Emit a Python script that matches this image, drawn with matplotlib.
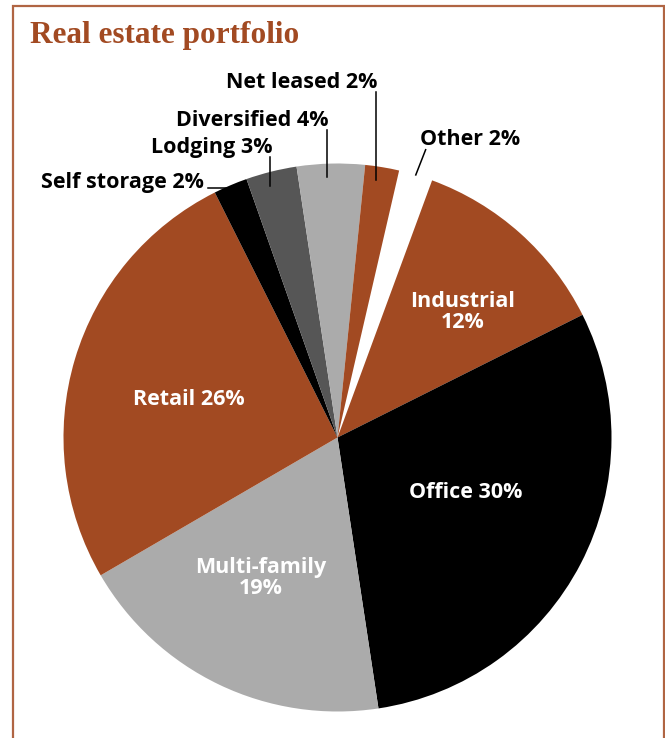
import numpy as np
import matplotlib.pyplot as plt
from matplotlib.patches import Rectangle

# portfolio shares, clockwise from the top
sectors = ["Other", "Industrial", "Office", "Multi-family", "Retail",
           "Self storage", "Lodging", "Diversified", "Net leased"]
shares = [2, 12, 30, 19, 26, 2, 3, 4, 2]

BROWN = "#A24A22"
colors = ["white", BROWN, "black", "#ABABAB", BROWN,
          "black", "#565656", "#ABABAB", BROWN]

W, H = 665, 738
fig = plt.figure(figsize=(W / 100, H / 100), dpi=100)

# frame round the panel (open at the bottom)
fig.add_artist(Rectangle((13 / W, -0.02), (664 - 13) / W, 1.02 - 6 / H,
                         transform=fig.transFigure, fill=False,
                         edgecolor=BROWN, lw=1.6, alpha=0.85))
fig.text(30 / W, 1 - 35 / H, "Real estate portfolio", color=BROWN,
         fontsize=22.5, fontweight="bold", family="Liberation Serif",
         ha="left", va="center")

cx, cy, r = 337.5, 437.5, 274
ax = fig.add_axes([(cx - r) / W, (H - cy - r) / H, 2 * r / W, 2 * r / H])
wedges, _ = ax.pie(shares, colors=colors, startangle=77, counterclock=False,
                   radius=1, wedgeprops=dict(linewidth=0))
ax.set_xlim(-1, 1)
ax.set_ylim(-1, 1)
ax.set_aspect("equal")
ax.axis("off")

sans = ["Open Sans", "DejaVu Sans"]
fs = 15.5


def on_circle(i, rad, shift=0.0):
    w = wedges[i]
    a = np.deg2rad((w.theta1 + w.theta2) / 2 + shift)
    return rad * np.cos(a), rad * np.sin(a)


# white labels inside the large slices
inside = {"Industrial": ("Industrial\n12%", 0.458, 0.458),
          "Office": ("Office 30%", 0.469, -0.199),
          "Multi-family": ("Multi-family\n19%", -0.279, -0.513),
          "Retail": ("Retail 26%", -0.542, 0.137)}
for name, (label, x, y) in inside.items():
    ax.text(x, y, label, color="white", fontsize=fs, fontweight="bold",
            family=sans, ha="center", va="center", linespacing=1.05)

# small slices: vertical leader up to a label that ends at the line
tops = {"Net leased": 1.262, "Diversified": 1.122, "Lodging": 1.024}
for name, ytop in tops.items():
    i = sectors.index(name)
    x, y = on_circle(i, 0.95, shift=1.0)
    ax.plot([x, x], [y, ytop], color="black", lw=1.1, clip_on=False)
    ax.text(x + 0.008, ytop - 0.004, f"{name} {shares[i]}%", fontsize=fs,
            fontweight="bold", family=sans, ha="right", va="bottom")

i = sectors.index("Self storage")
x, y = on_circle(i, 0.99)
ax.plot([x, x - 0.085], [y, y], color="black", lw=1.1, clip_on=False)
ax.text(x - 0.1, y - 0.018, f"Self storage {shares[i]}%", fontsize=fs,
        fontweight="bold", family=sans, ha="right", va="bottom")

i = sectors.index("Other")
x0, y0 = on_circle(i, 1.0)
x1, y1 = x0 + 0.036, y0 + 0.092
ax.plot([x0, x1], [y0, y1], color="black", lw=1.1, clip_on=False)
ax.text(x1 - 0.02, y1 + 0.0, f"Other {shares[i]}%", fontsize=fs,
        fontweight="bold", family=sans, ha="left", va="bottom")

fig.savefig("out.png", dpi=100, facecolor="white")
